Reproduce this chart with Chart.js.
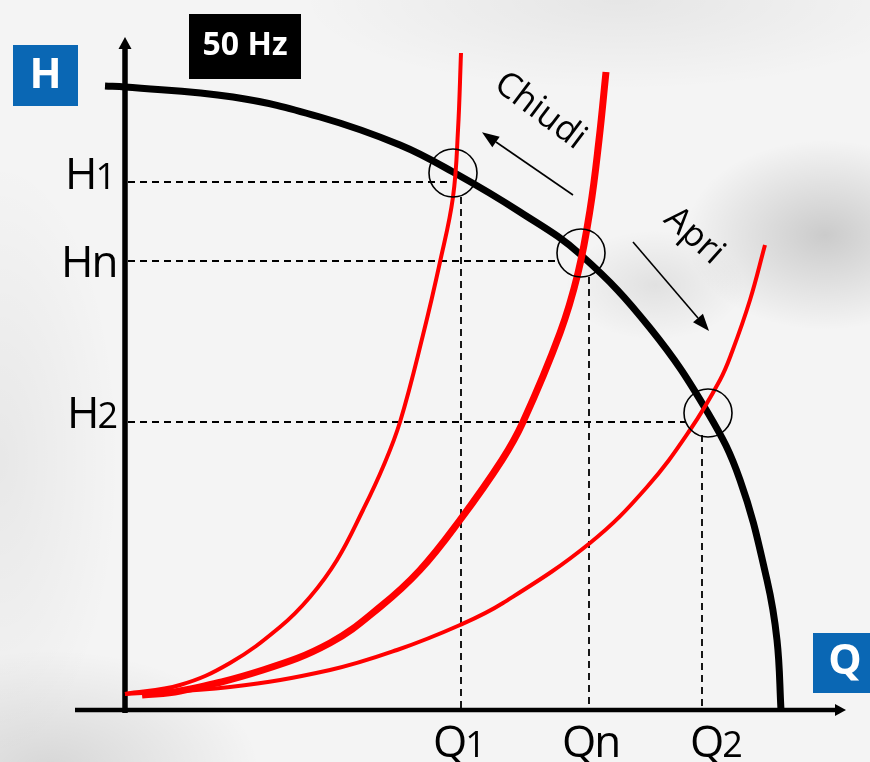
<!DOCTYPE html>
<html>
<head>
<meta charset="utf-8">
<script src="https://cdn.jsdelivr.net/npm/chart.js@4.4.1/dist/chart.umd.min.js"></script>
<style>
  html, body { margin: 0; padding: 0; }
  body {
    width: 870px;
    height: 762px;
    overflow: hidden;
    background:
      radial-gradient(ellipse 140px 95px at 825px 235px, rgba(0,0,0,0.17), rgba(0,0,0,0)),
      radial-gradient(ellipse 90px 55px at 655px 285px, rgba(0,0,0,0.08), rgba(0,0,0,0)),
      radial-gradient(ellipse 210px 120px at 50px 770px, rgba(0,0,0,0.12), rgba(0,0,0,0)),
      radial-gradient(ellipse 320px 90px at 620px 0px, rgba(0,0,0,0.06), rgba(0,0,0,0)),
      radial-gradient(ellipse 120px 300px at 0px 460px, rgba(0,0,0,0.05), rgba(0,0,0,0)),
      #f4f4f4;
  }
  #wrap { position: relative; width: 870px; height: 762px; }
</style>
</head>
<body>
<div id="wrap"><canvas id="chart"></canvas></div>
<script>
// Q = portata, H = prevalenza (unita' arbitrarie)
const pumpQ = [-20, 0, 108, 195, 275, 328, 395, 456, 525, 583, 615, 642, 652, 656];
const pumpH = [624, 623, 613, 593, 565, 538, 498, 455, 382, 297, 230, 130, 70, 0];

// curve dell'impianto: valvola chiusa (1), nominale (n), aperta (2)
const sys1Q = [0, 55, 105, 155, 185, 212, 238, 258, 275, 298, 315, 328, 333, 336];
const sys1H = [16, 25, 47, 83, 113, 150, 200, 243, 288, 375, 448, 513, 580, 657];

const sysNQ = [17, 55, 138, 205, 255, 295, 335, 377, 398, 435, 453, 465, 474, 481];
const sysNH = [15, 19, 40, 67, 103, 140, 190, 250, 288, 377, 437, 500, 570, 638];

const sys2Q = [0, 105, 205, 272, 335, 378, 465, 522, 565, 595, 607, 625, 640];
const sys2H = [16, 23, 40, 60, 85, 107, 167, 223, 280, 330, 358, 410, 465];

// punti di lavoro
const opQ = [328, 456, 583];
const opH = [537, 457, 297];

// tacche sugli assi
const tickH = [528, 449, 288];
const tickHLabels = ['1', 'n', '2'];
const tickQ = [336, 464, 577];
const tickQLabels = ['1', 'n', '2'];
// fine delle linee tratteggiate (bordo del cerchio)
const hLineEndQ = [322, 432, 560];
const vLineStartH = [513, 433, 275];

// frecce Chiudi / Apri
const chiudiQ = [448, 371];
const chiudiH = [515, 568];
const apriQ = [508, 573];
const apriH = [468, 392];

const zip = (xs, ys) => xs.map((v, i) => ({ x: v, y: ys[i] }));

function line(data, color, width, extra) {
  return Object.assign({
    data: data,
    showLine: true,
    borderColor: color,
    backgroundColor: color,
    borderWidth: width,
    pointRadius: 0,
    fill: false,
    tension: 0.4
  }, extra || {});
}

const straight = { tension: 0 };
const datasets = [];

// cerchi (sopra a tutto)
datasets.push({
  data: zip(opQ, opH),
  showLine: false,
  pointRadius: 24,
  pointBorderWidth: 1.6,
  pointBorderColor: '#000',
  pointBackgroundColor: 'rgba(0,0,0,0)'
});

// frecce
datasets.push(line(zip(chiudiQ, chiudiH), '#000', 1.6, Object.assign({ arrowHead: [17, 13] }, straight)));
datasets.push(line(zip(apriQ, apriH), '#000', 1.6, Object.assign({ arrowHead: [17, 13] }, straight)));

// curve impianto
datasets.push(line(zip(sys1Q, sys1H), '#ff0000', 4));
datasets.push(line(zip(sysNQ, sysNH), '#ff0000', 7));
datasets.push(line(zip(sys2Q, sys2H), '#ff0000', 4));

// curva della pompa
datasets.push(line(zip(pumpQ, pumpH), '#000', 7));

// tratteggi
tickH.forEach((h, i) => {
  datasets.push(line([{ x: 3, y: h }, { x: hLineEndQ[i], y: h }], '#000', 1.8, Object.assign({ borderDash: [7, 5] }, straight)));
  datasets.push(line([{ x: tickQ[i], y: vLineStartH[i] }, { x: tickQ[i], y: 2 }], '#000', 1.8, Object.assign({ borderDash: [7, 5] }, straight)));
});

// assi
datasets.push(line([{ x: -50, y: 0 }, { x: 710, y: 0 }], '#000', 4.5, Object.assign({ arrowHead: [11, 12] }, straight)));
datasets.push(line([{ x: 0, y: -3 }, { x: 0, y: 661 }], '#000', 5.5, Object.assign({ arrowHead: [12, 13] }, straight)));

const FONT = '"Open Sans", "Noto Sans", sans-serif';

function box(ctx, x, y, w, h, fill, text, size, tx, ty) {
  ctx.fillStyle = fill;
  ctx.fillRect(x, y, w, h);
  ctx.fillStyle = '#fff';
  ctx.font = 'bold ' + size + 'px ' + FONT;
  ctx.textAlign = 'center';
  ctx.textBaseline = 'middle';
  ctx.fillText(text, tx, ty);
}

function axisLabel(ctx, main, sub, left, baseline) {
  ctx.fillStyle = '#000';
  ctx.textAlign = 'left';
  ctx.textBaseline = 'alphabetic';
  ctx.font = '44px ' + FONT;
  ctx.fillText(main, left, baseline);
  const w = ctx.measureText(main).width;
  ctx.font = (sub === 'n' ? 44 : 36) + 'px ' + FONT;
  ctx.fillText(sub, left + w - 2, baseline);
}

const overlay = {
  id: 'overlay',
  afterDatasetsDraw(chart) {
    const { ctx, scales: { x, y } } = chart;
    ctx.save();

    // punte delle frecce
    chart.data.datasets.forEach((ds, i) => {
      if (!ds.arrowHead) return;
      const pts = chart.getDatasetMeta(i).data;
      const a = pts[pts.length - 2], b = pts[pts.length - 1];
      const ang = Math.atan2(b.y - a.y, b.x - a.x);
      const len = ds.arrowHead[0], w = ds.arrowHead[1];
      ctx.save();
      ctx.translate(b.x, b.y);
      ctx.rotate(ang);
      ctx.beginPath();
      ctx.moveTo(len, 0);
      ctx.lineTo(0, -w / 2);
      ctx.lineTo(0, w / 2);
      ctx.closePath();
      ctx.fillStyle = ds.borderColor;
      ctx.fill();
      ctx.restore();
    });

    // etichette H1, Hn, H2
    const x0 = x.getPixelForValue(0);
    const hOff = [[-60, 7], [-64, 16], [-58, 6]];
    tickH.forEach((h, i) => {
      axisLabel(ctx, 'H', tickHLabels[i], x0 + hOff[i][0], y.getPixelForValue(h) + hOff[i][1]);
    });

    // etichette Q1, Qn, Q2
    const y0 = y.getPixelForValue(0);
    const qOff = [-28, -27, -12];
    tickQ.forEach((q, i) => {
      axisLabel(ctx, 'Q', tickQLabels[i], x.getPixelForValue(q) + qOff[i], y0 + 47);
    });

    // testi Chiudi / Apri
    ctx.fillStyle = '#000';
    ctx.font = '35px ' + FONT;
    ctx.textAlign = 'center';
    ctx.textBaseline = 'middle';
    ctx.save();
    ctx.translate(540, 111);
    ctx.rotate(37 * Math.PI / 180);
    ctx.fillText('Chiudi', 0, 0);
    ctx.restore();
    ctx.save();
    ctx.translate(694, 236);
    ctx.rotate(42 * Math.PI / 180);
    ctx.fillText('Apri', 0, 0);
    ctx.restore();

    // riquadri
    box(ctx, 13, 45, 65, 61, '#0a67b4', 'H', 42, 45.5, 76);
    box(ctx, 813, 633, 60, 60, '#0a67b4', 'Q', 42, 845, 662);
    box(ctx, 189, 14, 112, 65, '#000', '50 Hz', 32, 245, 46);

    ctx.restore();
  }
};

new Chart(document.getElementById('chart'), {
  type: 'scatter',
  data: { datasets: datasets },
  options: {
    responsive: true,
    maintainAspectRatio: false,
    animation: false,
    events: [],
    layout: { padding: 0, autoPadding: false },
    plugins: {
      legend: { display: false },
      tooltip: { enabled: false }
    },
    scales: {
      x: { type: 'linear', display: false, min: -125, max: 745 },
      y: { type: 'linear', display: false, min: -52, max: 710 }
    }
  },
  plugins: [overlay]
});
</script>
</body>
</html>
